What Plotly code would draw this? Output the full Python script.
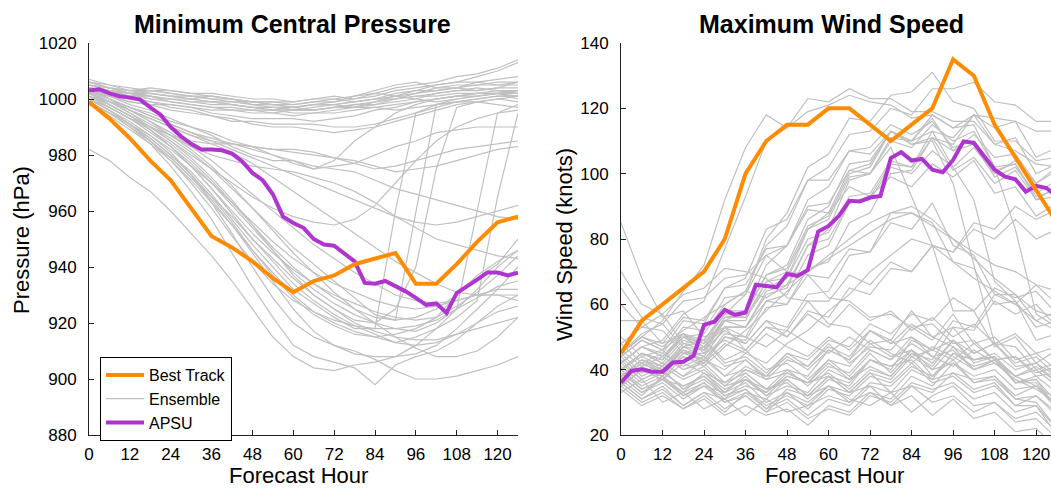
import plotly.graph_objects as go

# ---------------- data ----------------
hours6 = list(range(0, 127, 6))
hours3 = list(range(0, 127, 3))

best_pressure = [999, 993, 986, 978, 971, 961, 951, 947, 942, 936, 931, 935, 937, 941, 943, 945,
                 934, 934, 941, 949, 956, 958]
best_wind = [45, 55, 60, 65, 70, 80, 100, 110, 115, 115, 120, 120, 115, 110, 115, 120,
             135, 130, 115, 105, 95, 85]

apsu_pressure = [1003, 1003.5, 1002, 1001, 1000.5, 999.8, 997, 994.4, 990, 986.7, 984, 982,
                 982, 981.7, 980.5, 977.7, 973.6, 971, 966, 958, 955.7, 954, 950, 948,
                 947.6, 945, 942, 934.3, 934, 935, 933.3, 931.3, 929, 926.5, 927, 923.6,
                 930.7, 932.9, 935.5, 938, 938, 937, 938]
apsu_wind = [36, 39.6, 40.1, 39.4, 39.4, 42.2, 42.4, 44.3, 53.7, 54.7, 58.3, 56.8, 57.5, 66,
             65.6, 65.2, 69.3, 68.7, 70.5, 82.3, 84, 87.1, 91.7, 91.5, 92.7, 93.2, 104.8,
             106.6, 104, 104.5, 101.2, 100.4, 104.2, 109.9, 109.4, 105.3, 101.2, 99.1, 98.3,
             94.5, 96.3, 95.6, 93]

ens_p01 = [1006, 1004, 1003, 1004, 1003, 1002, 1002, 1001, 1000, 1000, 999, 1000, 1001, 1000, 1001, 1003, 1004, 1005, 1006, 1008, 1010, 1013]
ens_p02 = [1005, 1003, 1002, 1003, 1002, 1001, 1000, 1000, 999, 998, 998, 999, 999, 1000, 1002, 1004, 1005, 1006, 1008, 1009, 1011, 1014]
ens_p03 = [1004, 1003, 1001, 1002, 1001, 1000, 1001, 1000, 998, 997, 997, 998, 998, 999, 1000, 1002, 1003, 1005, 1006, 1006, 1007, 1008]
ens_p04 = [1007, 1005, 1004, 1003, 1003, 1002, 1001, 1000, 999, 999, 998, 999, 1000, 999, 1000, 1001, 1002, 1004, 1005, 1005, 1006, 1006]
ens_p05 = [1003, 1002, 1001, 1000, 1000, 999, 999, 998, 997, 996, 997, 996, 997, 998, 999, 1001, 1003, 1003, 1004, 1005, 1005, 1006]
ens_p06 = [1005, 1004, 1002, 1002, 1001, 1000, 999, 999, 998, 998, 997, 998, 999, 1001, 1003, 1005, 1006, 1004, 1004, 1003, 1004, 1004]
ens_p07 = [1004, 1002, 1001, 1001, 1000, 999, 998, 998, 997, 996, 996, 997, 998, 999, 1000, 1000, 1001, 1002, 1003, 1004, 1003, 1003]
ens_p08 = [1006, 1005, 1003, 1002, 1001, 1001, 1000, 999, 999, 998, 997, 998, 998, 997, 999, 1000, 1002, 1003, 1004, 1006, 1005, 1005]
ens_p09 = [1002, 1001, 999, 998, 998, 997, 996, 996, 995, 995, 994, 995, 995, 996, 997, 998, 999, 1000, 1001, 1002, 1002, 1003]
ens_p10 = [1005, 1003, 1002, 1001, 1000, 1000, 999, 998, 997, 997, 996, 996, 997, 998, 998, 999, 1000, 1002, 1003, 1003, 1004, 1006]
ens_p11 = [1004, 1003, 1002, 1000, 999, 998, 997, 996, 996, 995, 996, 996, 997, 997, 998, 1000, 1001, 1001, 1002, 1002, 1002, 1001]
ens_p12 = [1003, 1002, 1000, 999, 998, 997, 995, 994, 993, 993, 993, 992, 993, 994, 996, 997, 999, 1000, 1001, 1001, 1002, 1002]
ens_p13 = [1006, 1004, 1003, 1003, 1002, 1001, 1001, 1000, 999, 999, 999, 1000, 1000, 1001, 1002, 1001, 1000, 999, 1000, 1001, 1002, 1000]
ens_p14 = [1004, 1003, 1001, 999, 997, 996, 994, 992, 992, 991, 991, 991, 990, 990, 991, 993, 995, 997, 999, 1000, 1001, 1001]
ens_p15 = [1003, 1001, 999, 998, 996, 995, 994, 993, 991, 990, 990, 989, 988, 989, 990, 992, 994, 996, 998, 999, 1000, 999]
ens_p16 = [1005, 1004, 1002, 1001, 999, 998, 997, 997, 996, 996, 995, 995, 996, 997, 997, 996, 997, 998, 999, 999, 998, 997]
ens_p17 = [1003, 1000, 997, 994, 991, 988, 986, 984, 982, 980, 977, 975, 976, 977, 980, 983, 985, 988, 989, 990, 990, 990]
ens_p18 = [1002, 999, 996, 993, 990, 987, 985, 984, 983, 982, 982, 981, 979, 977, 975, 976, 978, 980, 982, 983, 984, 985]
ens_p19 = [1001, 999, 997, 995, 992, 990, 988, 985, 983, 980, 978, 976, 975, 974, 971, 968, 966, 964, 962, 960, 958, 957]
ens_p20 = [1004, 1001, 998, 996, 993, 990, 987, 983, 980, 978, 978, 975, 978, 985, 990, 995, 998, 1000, 1001, 1002, 1003, 1002]
ens_p21 = [1000, 997, 993, 990, 987, 985, 984, 984, 983, 982, 981, 980, 979, 978, 976, 974, 975, 976, 978, 980, 982, 983]
ens_p22 = [1000, 996, 991, 986, 980, 974, 966, 957, 948, 940, 932, 927, 922, 918, 918, 960, 995, 998, 999, 1000, 1001, 1001]
ens_p23 = [999, 995, 990, 985, 979, 972, 965, 958, 950, 943, 936, 930, 925, 921, 920, 925, 940, 975, 997, 999, 1000, 1001]
ens_p24 = [1001, 997, 993, 988, 983, 977, 970, 962, 954, 946, 938, 932, 927, 923, 920, 918, 917, 920, 925, 960, 995, 998]
ens_p25 = [998, 994, 989, 984, 978, 971, 963, 955, 946, 938, 930, 924, 920, 917, 915, 913, 915, 918, 922, 928, 965, 995]
ens_p26 = [1002, 998, 994, 990, 986, 981, 975, 968, 961, 954, 947, 941, 935, 929, 923, 921, 960, 998, 1000, 1001, 1002, 1003]
ens_p27 = [982, 978, 972, 967, 960, 952, 944, 935, 925, 915, 908, 904, 903, 905, 906, 908, 912, 918, 925, 932, 940, 946]
ens_p28 = [999, 995, 990, 984, 976, 967, 957, 945, 933, 922, 912, 908, 906, 904, 898, 905, 908, 910, 914, 920, 926, 930]
ens_p29 = [1000, 996, 992, 987, 981, 973, 963, 952, 940, 929, 920, 915, 912, 910, 907, 903, 900, 900, 901, 903, 905, 908]
ens_p30 = [1003, 999, 995, 990, 985, 979, 972, 964, 955, 946, 937, 930, 925, 920, 917, 915, 914, 914, 916, 918, 920, 922]
ens_p31 = [1001, 998, 994, 989, 983, 976, 968, 959, 950, 942, 934, 928, 923, 919, 916, 913, 912, 913, 916, 920, 924, 926]
ens_p32 = [1000, 996, 991, 985, 978, 970, 961, 951, 942, 934, 928, 924, 921, 919, 918, 918, 919, 921, 925, 929, 933, 935]
ens_p33 = [1002, 998, 994, 989, 983, 976, 968, 960, 952, 945, 939, 934, 930, 927, 924, 922, 921, 922, 926, 931, 937, 944]
ens_p34 = [999, 995, 991, 986, 980, 973, 965, 956, 946, 937, 929, 923, 919, 916, 915, 916, 918, 922, 930, 937, 942, 946]
ens_p35 = [1001, 997, 993, 989, 984, 978, 971, 963, 955, 947, 940, 934, 929, 925, 922, 921, 922, 925, 930, 936, 941, 950]
ens_p36 = [1003, 1000, 996, 992, 988, 983, 978, 972, 966, 960, 954, 948, 943, 938, 934, 930, 928, 927, 928, 930, 932, 932]
ens_p37 = [1002, 999, 996, 993, 990, 987, 984, 981, 977, 972, 967, 962, 957, 952, 947, 942, 938, 934, 931, 930, 930, 928]
ens_p38 = [998, 995, 991, 987, 982, 976, 970, 963, 956, 949, 943, 938, 934, 931, 928, 926, 925, 926, 928, 930, 930, 930]
ens_p39 = [1000, 996, 991, 985, 979, 972, 964, 955, 945, 935, 925, 917, 912, 909, 908, 908, 909, 912, 918, 925, 932, 940]
ens_p40 = [1004, 1000, 996, 992, 987, 982, 976, 969, 961, 953, 945, 938, 931, 925, 920, 915, 911, 908, 908, 910, 915, 922]
ens_p41 = [1002, 999, 995, 991, 987, 983, 980, 978, 976, 975, 974, 972, 970, 967, 963, 958, 954, 950, 948, 946, 944, 943]
ens_p42 = [1001, 998, 994, 990, 985, 980, 975, 970, 965, 961, 958, 956, 955, 957, 962, 970, 978, 985, 990, 993, 995, 996]
ens_p43 = [1003, 1000, 997, 994, 991, 988, 985, 982, 979, 976, 973, 970, 967, 964, 961, 958, 956, 955, 956, 958, 960, 962]

ens_w01 = [45, 50, 55, 64, 72, 92, 108, 118, 114, 119, 121, 124, 122, 121, 117, 118, 114, 118, 117, 116, 113, 113]
ens_w02 = [42, 47, 49, 57, 61, 77, 93, 110, 114, 123, 122, 126, 123, 123, 119, 119, 116, 116, 109, 107, 103, 102]
ens_w03 = [38, 43, 41, 47, 49, 57, 63, 80, 88, 102, 106, 117, 116, 124, 125, 131, 122, 120, 110, 110, 104, 105]
ens_w04 = [40, 45, 43, 50, 51, 60, 64, 78, 84, 98, 102, 112, 113, 120, 118, 126, 126, 128, 122, 121, 116, 116]
ens_w05 = [35, 40, 38, 45, 45, 55, 58, 72, 78, 92, 96, 107, 108, 115, 112, 116, 108, 110, 101, 103, 92, 93]
ens_w06 = [40, 45, 43, 50, 48, 57, 56, 65, 68, 83, 88, 101, 103, 113, 109, 110, 97, 72, 48, 47, 40, 42]
ens_w07 = [38, 43, 40, 47, 44, 53, 53, 63, 65, 78, 83, 98, 100, 111, 110, 118, 114, 115, 102, 103, 93, 95]
ens_w08 = [42, 47, 44, 51, 49, 58, 58, 69, 72, 86, 90, 103, 104, 113, 109, 111, 101, 105, 97, 101, 92, 96]
ens_w09 = [36, 41, 38, 45, 43, 51, 50, 61, 63, 75, 78, 91, 93, 103, 102, 113, 111, 118, 109, 111, 100, 103]
ens_w10 = [44, 49, 46, 55, 54, 65, 68, 83, 86, 98, 98, 107, 106, 113, 110, 113, 102, 92, 67, 61, 49, 51]
ens_w11 = [40, 44, 41, 48, 46, 55, 55, 67, 70, 83, 86, 99, 100, 110, 108, 115, 110, 113, 102, 83, 57, 53]
ens_w12 = [38, 42, 39, 47, 46, 56, 57, 69, 71, 84, 87, 100, 102, 113, 110, 117, 107, 109, 99, 102, 94, 98]
ens_w13 = [35, 40, 37, 44, 42, 50, 49, 59, 60, 71, 73, 85, 88, 100, 101, 111, 109, 118, 114, 116, 105, 108]
ens_w14 = [42, 47, 45, 53, 52, 62, 63, 75, 78, 90, 91, 101, 100, 108, 93, 78, 58, 58, 47, 50, 42, 46]
ens_w15 = [40, 45, 42, 49, 47, 56, 56, 67, 68, 80, 82, 93, 94, 104, 102, 111, 107, 112, 105, 106, 97, 101]
ens_w16 = [37, 42, 39, 46, 44, 53, 53, 64, 66, 78, 80, 91, 92, 102, 100, 107, 102, 108, 100, 104, 97, 102]
ens_w17 = [45, 50, 48, 56, 55, 65, 66, 77, 78, 89, 88, 96, 93, 99, 96, 103, 99, 104, 94, 96, 87, 91]
ens_w18 = [40, 45, 43, 51, 48, 55, 53, 61, 60, 69, 68, 77, 76, 85, 83, 91, 78, 75, 63, 63, 55, 58]
ens_w19 = [38, 43, 39, 46, 43, 50, 48, 55, 53, 63, 64, 75, 76, 88, 88, 85, 73, 71, 60, 61, 53, 55]
ens_w20 = [85, 68, 56, 58, 50, 53, 46, 53, 50, 58, 56, 65, 63, 71, 70, 78, 76, 83, 80, 86, 80, 83]
ens_w21 = [55, 55, 48, 51, 45, 49, 46, 53, 52, 61, 61, 69, 66, 73, 70, 78, 76, 85, 83, 90, 86, 89]
ens_w22 = [36, 31, 34, 29, 33, 28, 32, 27, 33, 30, 35, 31, 29, 33, 27, 32, 35, 29, 30, 24, 25, 19]
ens_w23 = [40, 34, 37, 32, 36, 31, 37, 33, 39, 36, 43, 38, 45, 39, 46, 42, 49, 43, 44, 38, 40, 35]
ens_w24 = [33, 37, 30, 33, 28, 31, 26, 31, 27, 29, 32, 30, 36, 35, 41, 38, 43, 36, 37, 31, 32, 26]
ens_w25 = [45, 39, 42, 38, 41, 35, 40, 38, 45, 41, 48, 42, 47, 46, 53, 49, 57, 48, 50, 43, 45, 40]
ens_w26 = [38, 33, 36, 31, 35, 30, 33, 31, 37, 32, 38, 36, 43, 41, 46, 38, 45, 43, 44, 36, 37, 28]
ens_w27 = [50, 44, 46, 40, 42, 36, 39, 34, 37, 32, 35, 30, 33, 29, 32, 26, 31, 25, 27, 21, 22, 16]
ens_w28 = [42, 37, 40, 34, 39, 33, 38, 32, 35, 33, 40, 37, 41, 38, 45, 41, 49, 45, 48, 41, 42, 36]
ens_w29 = [35, 30, 33, 28, 31, 26, 29, 26, 28, 23, 29, 27, 33, 31, 38, 35, 42, 38, 40, 34, 35, 28]
ens_w30 = [60, 53, 52, 45, 47, 41, 43, 38, 40, 35, 41, 39, 46, 43, 50, 46, 49, 42, 44, 36, 37, 30]
ens_w31 = [48, 42, 45, 41, 44, 38, 43, 37, 39, 36, 38, 33, 39, 37, 44, 40, 47, 40, 43, 36, 38, 33]
ens_w32 = [37, 32, 38, 32, 35, 33, 36, 30, 33, 28, 34, 32, 38, 36, 42, 36, 38, 33, 35, 29, 32, 27]
ens_w33 = [44, 38, 41, 37, 40, 35, 37, 34, 40, 38, 46, 43, 52, 49, 58, 50, 53, 45, 48, 42, 44, 38]
ens_w34 = [39, 34, 37, 33, 36, 30, 32, 27, 30, 25, 28, 26, 32, 30, 36, 34, 36, 31, 33, 27, 29, 22]
ens_w35 = [65, 56, 54, 47, 49, 43, 46, 40, 42, 37, 43, 41, 48, 44, 46, 40, 42, 36, 38, 32, 35, 29]
ens_w36 = [41, 36, 39, 35, 38, 33, 39, 34, 36, 31, 37, 35, 43, 40, 49, 46, 55, 53, 63, 60, 66, 60]
ens_w37 = [34, 29, 32, 28, 32, 27, 33, 28, 34, 32, 38, 33, 35, 29, 35, 33, 39, 37, 38, 31, 30, 22]
ens_w38 = [46, 41, 44, 40, 43, 38, 40, 37, 43, 41, 47, 44, 52, 48, 50, 44, 46, 40, 43, 38, 41, 36]
ens_w39 = [43, 37, 40, 34, 37, 32, 35, 33, 38, 36, 39, 34, 40, 38, 45, 43, 53, 52, 61, 57, 60, 53]
ens_w40 = [36, 31, 35, 29, 33, 31, 34, 28, 31, 26, 31, 29, 35, 33, 40, 37, 45, 41, 43, 36, 36, 28]
ens_w41 = [70, 60, 57, 48, 49, 42, 44, 39, 45, 43, 49, 47, 54, 51, 57, 55, 62, 58, 65, 62, 64, 57]
ens_w42 = [40, 35, 38, 33, 39, 34, 37, 32, 38, 36, 42, 37, 43, 41, 43, 37, 39, 34, 36, 29, 29, 20]
ens_w43 = [38, 33, 37, 35, 38, 32, 34, 29, 32, 29, 35, 33, 39, 33, 35, 30, 32, 27, 30, 25, 27, 21]
ens_w44 = [48, 53, 57, 63, 65, 71, 70, 68, 62, 61, 54, 53, 48, 49, 44, 46, 43, 48, 43, 44, 38, 39]
ens_w45 = [45, 51, 54, 61, 62, 68, 69, 75, 70, 69, 62, 61, 56, 57, 53, 54, 48, 49, 43, 44, 39, 41]
ens_w46 = [42, 47, 44, 50, 46, 52, 48, 55, 50, 57, 53, 60, 55, 58, 52, 56, 50, 54, 48, 51, 45, 47]
ens_w47 = [38, 43, 40, 46, 42, 48, 45, 51, 47, 44, 50, 46, 52, 48, 54, 50, 47, 43, 45, 40, 42, 38]
ens_w48 = [35, 40, 37, 42, 39, 36, 41, 38, 44, 40, 46, 43, 49, 45, 42, 47, 44, 40, 42, 37, 34, 30]
ens_w49 = [44, 49, 46, 51, 47, 53, 50, 47, 52, 48, 45, 50, 46, 43, 48, 44, 41, 46, 42, 38, 35, 31]
ens_w50 = [40, 45, 42, 38, 43, 40, 45, 42, 48, 52, 58, 63, 70, 75, 80, 78, 73, 68, 64, 60, 55, 52]
ens_w51 = [37, 42, 39, 44, 41, 47, 52, 58, 64, 70, 75, 80, 85, 88, 90, 86, 80, 74, 68, 63, 58, 56]
ens_w52 = [45, 50, 47, 52, 56, 60, 64, 62, 66, 70, 74, 78, 82, 86, 88, 84, 80, 76, 72, 70, 66, 64]

ens_pressure = [ens_p01, ens_p02, ens_p03, ens_p04, ens_p05, ens_p06, ens_p07, ens_p08, ens_p09, ens_p10,
                ens_p11, ens_p12, ens_p13, ens_p14, ens_p15, ens_p16, ens_p17, ens_p18, ens_p19, ens_p20,
                ens_p21, ens_p22, ens_p23, ens_p24, ens_p25, ens_p26, ens_p27, ens_p28, ens_p29, ens_p30,
                ens_p31, ens_p32, ens_p33, ens_p34, ens_p35, ens_p36, ens_p37, ens_p38, ens_p39, ens_p40,
                ens_p41, ens_p42, ens_p43]
ens_wind = [ens_w01, ens_w02, ens_w03, ens_w04, ens_w05, ens_w06, ens_w07, ens_w08, ens_w09, ens_w10,
            ens_w11, ens_w12, ens_w13, ens_w14, ens_w15, ens_w16, ens_w17, ens_w18, ens_w19, ens_w20,
            ens_w21, ens_w22, ens_w23, ens_w24, ens_w25, ens_w26, ens_w27, ens_w28, ens_w29, ens_w30,
            ens_w31, ens_w32, ens_w33, ens_w34, ens_w35, ens_w36, ens_w37, ens_w38, ens_w39, ens_w40,
            ens_w41, ens_w42, ens_w43, ens_w44, ens_w45, ens_w46, ens_w47, ens_w48, ens_w49, ens_w50,
            ens_w51, ens_w52]

x_ticks = [0, 12, 24, 36, 48, 60, 72, 84, 96, 108, 120]
p_ticks = [880, 900, 920, 940, 960, 980, 1000, 1020]
w_ticks = [20, 40, 60, 80, 100, 120, 140]

# ---------------- style ----------------
W, H = 1051, 488
FONT = "Liberation Sans, Arial, Helvetica, sans-serif"
ORANGE = "#FF8C00"
PURPLE = "#B035D0"
GRAY = "#C0C0C0"
AXIS = "#222222"

fig = go.Figure()

# ensemble
for i, m in enumerate(ens_pressure):
    fig.add_trace(go.Scatter(x=hours6, y=m, mode="lines", line=dict(color=GRAY, width=1.2),
                             name="Ensemble", legendrank=2, showlegend=(i == 0),
                             xaxis="x", yaxis="y", hoverinfo="skip"))
for m in ens_wind:
    fig.add_trace(go.Scatter(x=hours6, y=m, mode="lines", line=dict(color=GRAY, width=1.2),
                             showlegend=False, xaxis="x2", yaxis="y2", hoverinfo="skip"))

# APSU
fig.add_trace(go.Scatter(x=hours3, y=apsu_pressure, mode="lines", line=dict(color=PURPLE, width=4),
                         name="APSU", legendrank=3, xaxis="x", yaxis="y"))
fig.add_trace(go.Scatter(x=hours3, y=apsu_wind, mode="lines", line=dict(color=PURPLE, width=4),
                         showlegend=False, xaxis="x2", yaxis="y2"))
# Best track
fig.add_trace(go.Scatter(x=hours6, y=best_pressure, mode="lines", line=dict(color=ORANGE, width=4),
                         name="Best Track", legendrank=1, xaxis="x", yaxis="y"))
fig.add_trace(go.Scatter(x=hours6, y=best_wind, mode="lines", line=dict(color=ORANGE, width=4),
                         showlegend=False, xaxis="x2", yaxis="y2"))

ybot, ytop = 1 - 435 / H, 1 - 43 / H
axis_common = dict(showgrid=False, zeroline=False, showline=True, linecolor=AXIS, linewidth=1,
                   ticks="inside", ticklen=5, tickcolor=AXIS, tickwidth=1,
                   tickfont=dict(family=FONT, size=17, color="black"), automargin=False)

fig.update_layout(
    width=W, height=H,
    margin=dict(l=0, r=0, t=0, b=0),
    paper_bgcolor="white", plot_bgcolor="white",
    xaxis=dict(domain=[89 / W, 518 / W], range=[0, 126], tickvals=x_ticks, anchor="y",
               ticklabelstandoff=4, **axis_common),
    yaxis=dict(domain=[ybot, ytop], range=[880, 1020], tickvals=p_ticks, anchor="x",
               ticklabelstandoff=8, **axis_common),
    xaxis2=dict(domain=[621 / W, 1.0], range=[0, 124.3], tickvals=x_ticks, anchor="y2",
                ticklabelstandoff=4, **axis_common),
    yaxis2=dict(domain=[ybot, ytop], range=[20, 140], tickvals=w_ticks, anchor="x2",
                ticklabelstandoff=8, **axis_common),
    showlegend=True,
    legend=dict(x=100 / W, y=1 - 357 / H, xanchor="left", yanchor="top",
                bgcolor="white", bordercolor="black", borderwidth=1,
                font=dict(family=FONT, size=16, color="black"),
                tracegroupgap=0, itemwidth=38),
)

ann = [
    dict(text="<b>Minimum Central Pressure</b>", x=292 / W, y=1 - 24 / H, size=25, angle=0),
    dict(text="<b>Maximum Wind Speed</b>", x=831 / W, y=1 - 24 / H, size=25, angle=0),
    dict(text="Forecast Hour", x=298 / W, y=1 - 475 / H, size=22, angle=0),
    dict(text="Forecast Hour", x=834 / W, y=1 - 475 / H, size=22, angle=0),
    dict(text="Pressure (hPa)", x=21 / W, y=1 - 240 / H, size=22, angle=-90),
    dict(text="Wind Speed (knots)", x=564 / W, y=1 - 245 / H, size=22, angle=-90),
]
for a in ann:
    fig.add_annotation(text=a["text"], x=a["x"], y=a["y"], xref="paper", yref="paper",
                       xanchor="center", yanchor="middle", showarrow=False, textangle=a["angle"],
                       font=dict(family=FONT, size=a["size"], color="black"))

fig.write_html("out.html")
